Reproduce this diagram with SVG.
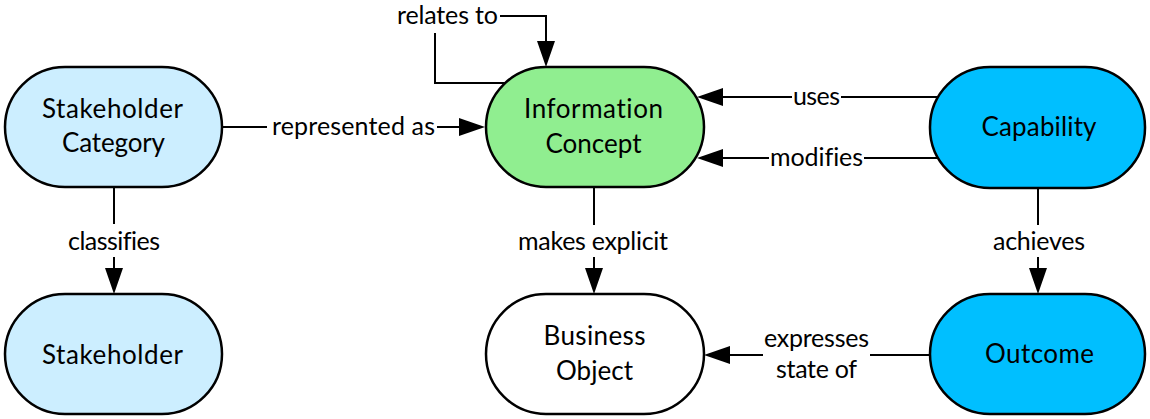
<svg xmlns="http://www.w3.org/2000/svg" width="1150" height="419" viewBox="0 0 1150 419">
  <style>
    .node { stroke: #000; stroke-width: 2.5; }
    .stake { fill: #CCEEFF; }
    .info { fill: #90EE90; }
    .cap { fill: #00BFFF; }
    .plain { fill: #FFFFFF; }
    .ntext { font-family: "Lato", "Open Sans", "Liberation Sans", sans-serif; font-size: 26px; fill: #000; text-anchor: middle; font-variant-ligatures: none; }
    .edge { fill: none; stroke: #000; stroke-width: 2; }
    .ltext { font-family: "Lato", "Open Sans", "Liberation Sans", sans-serif; font-size: 25px; fill: #000; text-anchor: middle; font-variant-ligatures: none; }
  </style>
  <defs>
    <marker id="arrow" markerUnits="userSpaceOnUse" markerWidth="28" markerHeight="20" refX="0" refY="9" orient="auto">
      <path d="M0,0 L26,9 L0,18 Z" fill="#000"/>
    </marker>
  </defs>

  <g id="stakeholder-category">
    <rect class="node stake" x="5" y="67" width="217" height="120" rx="60" ry="60"/>
    <text class="ntext" x="112.5" y="118" textLength="141" lengthAdjust="spacing">Stakeholder</text>
    <text class="ntext" x="113.5" y="152" textLength="103" lengthAdjust="spacing">Category</text>
  </g>

  <g id="stakeholder">
    <rect class="node stake" x="5" y="294" width="217" height="120" rx="60" ry="60"/>
    <text class="ntext" x="112.5" y="364" textLength="141" lengthAdjust="spacing">Stakeholder</text>
  </g>

  <g id="information-concept">
    <rect class="node info" x="486" y="67" width="218" height="120" rx="60" ry="60"/>
    <text class="ntext" x="593.5" y="118" textLength="139" lengthAdjust="spacing">Information</text>
    <text class="ntext" x="593.5" y="153" textLength="96" lengthAdjust="spacing">Concept</text>
  </g>

  <g id="business-object">
    <rect class="node plain" x="486" y="294" width="218" height="120" rx="60" ry="60"/>
    <text class="ntext" x="594.5" y="345" textLength="102" lengthAdjust="spacing">Business</text>
    <text class="ntext" x="594.5" y="380" textLength="77" lengthAdjust="spacing">Object</text>
  </g>

  <g id="capability">
    <rect class="node cap" x="930" y="67" width="215" height="121" rx="60" ry="60"/>
    <text class="ntext" x="1039" y="136" textLength="115" lengthAdjust="spacing">Capability</text>
  </g>

  <g id="outcome">
    <rect class="node cap" x="930" y="294" width="215" height="120" rx="60" ry="60"/>
    <text class="ntext" x="1039.5" y="363" textLength="109" lengthAdjust="spacing">Outcome</text>
  </g>

  <g id="connectors">
    <!-- represented as -->
    <path class="edge" d="M222 127 H267"/>
    <path class="edge" d="M437 127 H459" marker-end="url(#arrow)"/>
    <text class="ltext" x="353.5" y="135" textLength="163" lengthAdjust="spacing">represented as</text>

    <!-- relates to (self loop) -->
    <path class="edge" d="M505 83 H435 V33"/>
    <path class="edge" d="M500 16 H546 V41" marker-end="url(#arrow)"/>
    <text class="ltext" x="447.5" y="24" textLength="101" lengthAdjust="spacing">relates to</text>

    <!-- uses -->
    <path class="edge" d="M938 97 H841"/>
    <path class="edge" d="M792 97 H723" marker-end="url(#arrow)"/>
    <text class="ltext" x="816.5" y="105" textLength="47" lengthAdjust="spacing">uses</text>

    <!-- modifies -->
    <path class="edge" d="M938 158 H864"/>
    <path class="edge" d="M769 158 H723" marker-end="url(#arrow)"/>
    <text class="ltext" x="816.5" y="166" textLength="93" lengthAdjust="spacing">modifies</text>

    <!-- classifies -->
    <path class="edge" d="M114 187 V224"/>
    <path class="edge" d="M114 257 V268" marker-end="url(#arrow)"/>
    <text class="ltext" x="114" y="250" textLength="92" lengthAdjust="spacing">classifies</text>

    <!-- makes explicit -->
    <path class="edge" d="M594 187 V225"/>
    <path class="edge" d="M594 257 V268" marker-end="url(#arrow)"/>
    <text class="ltext" x="593" y="250" textLength="150" lengthAdjust="spacing">makes explicit</text>

    <!-- achieves -->
    <path class="edge" d="M1038 188 V225"/>
    <path class="edge" d="M1038 257 V268" marker-end="url(#arrow)"/>
    <text class="ltext" x="1039" y="250" textLength="92" lengthAdjust="spacing">achieves</text>

    <!-- expresses state of -->
    <path class="edge" d="M930 355 H870"/>
    <path class="edge" d="M763 355 H730" marker-end="url(#arrow)"/>
    <text class="ltext" x="816.5" y="347" textLength="105" lengthAdjust="spacing">expresses</text>
    <text class="ltext" x="816.5" y="378" textLength="81" lengthAdjust="spacing">state of</text>
  </g>
</svg>
